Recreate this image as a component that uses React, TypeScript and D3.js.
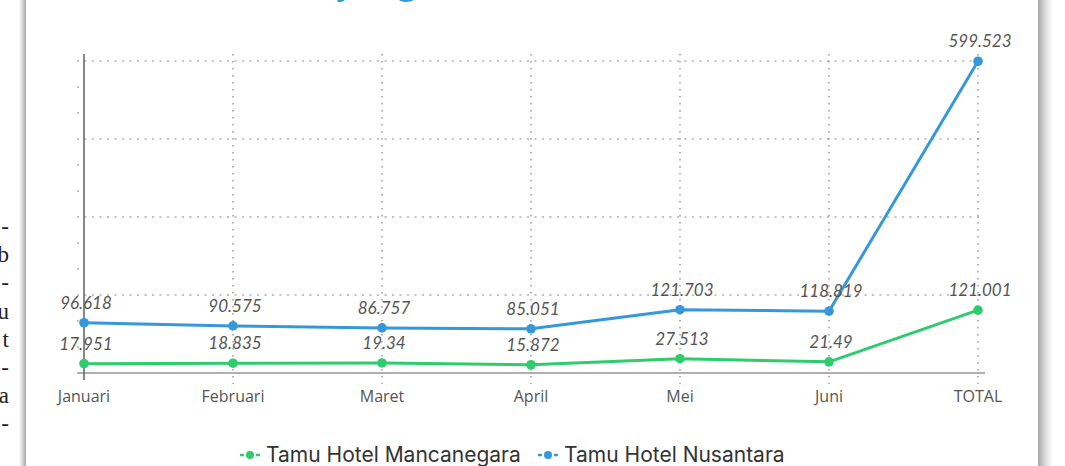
import React from 'react';
import * as d3 from 'd3';

const categories = ['Januari', 'Februari', 'Maret', 'April', 'Mei', 'Juni', 'TOTAL'];
const mancanegara = [17.951, 18.835, 19.34, 15.872, 27.513, 21.49, 121.001];
const nusantara = [96.618, 90.575, 86.757, 85.051, 121.703, 118.819, 599.523];
const yGridTicks = [0, 150, 300, 450, 600];
const yMinorTicks = [50, 100, 200, 250, 350, 400, 500, 550];
const seriesNames = ['Tamu Hotel Mancanegara', 'Tamu Hotel Nusantara'];
const sideText = ['-', 'b', '-', 'u', 't', '-', 'a', '-'];

const W = 1065;
const H = 466;
const GREEN = '#2fcc6d';
const BLUE = '#3598db';

export default function App() {
  const x = d3.scalePoint<string>().domain(categories).range([84, 978]);
  const y = d3.scaleLinear().domain([0, 600]).range([373, 61]);
  const line = d3
    .line<number>()
    .x((_, i) => x(categories[i]) as number)
    .y((d) => y(d));

  const series = [
    { name: seriesNames[0], values: mancanegara, color: GREEN },
    { name: seriesNames[1], values: nusantara, color: BLUE },
  ];

  const labelFont = "'Lato', 'DejaVu Sans', sans-serif";

  return (
    <svg
      width={W}
      height={H}
      style={{ position: 'fixed', left: 0, top: 0, background: '#fff' }}
    >
      <defs>
        <linearGradient id="shL" x1="0" x2="1" y1="0" y2="0">
          <stop offset="0" stopColor="#ffffff" />
          <stop offset="1" stopColor="#a9a9a9" />
        </linearGradient>
        <linearGradient id="shR" x1="0" x2="1" y1="0" y2="0">
          <stop offset="0" stopColor="#a6a6a6" />
          <stop offset="0.5" stopColor="#dcdcdc" />
          <stop offset="1" stopColor="#ffffff" />
        </linearGradient>
      </defs>
      <rect x={0} y={0} width={W} height={H} fill="#fff" />
      {/* page text fragments on the left */}
      {sideText.map((t, i) => (
        <text
          key={i}
          x={9}
          y={234 + i * 28.2}
          textAnchor="end"
          fontFamily="'Liberation Serif', 'DejaVu Serif', serif"
          fontSize={23}
          fill="#222"
        >
          {t}
        </text>
      ))}
      {/* card shadows */}
      <rect x={19} y={0} width={7} height={H} fill="url(#shL)" />
      <rect x={1038} y={0} width={15} height={H} fill="url(#shR)" />
      <rect x={26} y={0} width={1012} height={H} fill="#fff" />

      {/* clipped title */}
      <text
        x={337}
        y={-7}
        fontFamily="'Open Sans', sans-serif"
        fontSize={36}
        fill={BLUE}
      >
        yang
      </text>

      {/* horizontal gridlines */}
      {yGridTicks.slice(1).map((t) => (
        <line
          key={t}
          x1={77}
          x2={984}
          y1={y(t)}
          y2={y(t)}
          stroke="#c4c4c4"
          strokeWidth={2}
          strokeDasharray="2 5.5"
        />
      ))}
      {yMinorTicks.map((t) => (
        <line
          key={t}
          x1={77}
          x2={79}
          y1={y(t)}
          y2={y(t)}
          stroke="#c4c4c4"
          strokeWidth={2}
        />
      ))}
      {/* vertical gridlines */}
      {categories.slice(1).map((c) => (
        <line
          key={c}
          x1={x(c)}
          x2={x(c)}
          y1={54}
          y2={384}
          stroke="#8a8a8a"
          strokeWidth={1.3}
          strokeDasharray="1.5 5.5"
        />
      ))}
      {/* x baseline */}
      <line x1={77} x2={985} y1={y(0)} y2={y(0)} stroke="#b0b0b0" strokeWidth={2.2} />
      {/* y axis line */}
      <line x1={84} x2={84} y1={54} y2={380} stroke="#6a6a6a" strokeWidth={1.6} />

      {/* x tick labels */}
      {categories.map((c) => (
        <text
          key={c}
          x={x(c)}
          y={402}
          textAnchor="middle"
          fontFamily="'Open Sans', sans-serif"
          fontSize={16}
          fill="#555"
        >
          {c}
        </text>
      ))}

      {/* lines */}
      {series.map((s) => (
        <path
          key={s.name}
          d={line(s.values) || ''}
          fill="none"
          stroke={s.color}
          strokeWidth={3}
          strokeLinejoin="round"
        />
      ))}
      {series.map((s) =>
        s.values.map((v, i) => (
          <circle
            key={s.name + i}
            cx={x(categories[i])}
            cy={y(v)}
            r={4.8}
            fill={s.color}
          />
        ))
      )}
      {/* data labels */}
      {series.map((s) =>
        s.values.map((v, i) => (
          <text
            key={'l' + s.name + i}
            x={(x(categories[i]) as number) + 2}
            y={y(v) - 14}
            textAnchor="middle"
            fontFamily={labelFont}
            fontStyle="italic"
            fontSize={17}
            fill="#555"
          >
            {String(v)}
          </text>
        ))
      )}

      {/* legend */}
      {series.map((s, i) => {
        const lx = i === 0 ? 240 : 538;
        const ly = 455;
        return (
          <g key={'lg' + i}>
            <line x1={lx} x2={lx + 4} y1={ly} y2={ly} stroke={s.color} strokeWidth={2.5} />
            <line x1={lx + 16} x2={lx + 20} y1={ly} y2={ly} stroke={s.color} strokeWidth={2.5} />
            <circle cx={lx + 10} cy={ly} r={4} fill={s.color} />
            <text
              x={lx + 26}
              y={ly + 7}
              fontFamily="'Inter', sans-serif"
              fontSize={21}
              fill="#333"
            >
              {s.name}
            </text>
          </g>
        );
      })}
    </svg>
  );
}
